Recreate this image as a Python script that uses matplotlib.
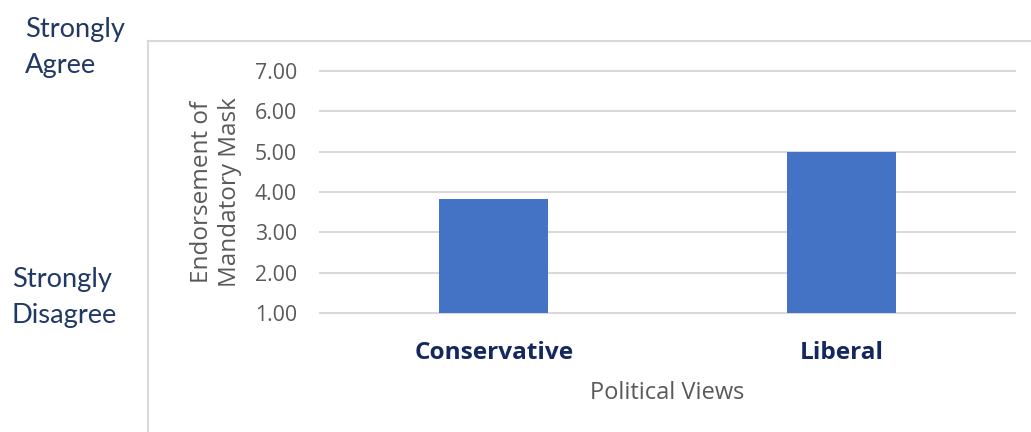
import matplotlib
matplotlib.use("Agg")
import matplotlib.pyplot as plt
from matplotlib.lines import Line2D

# chart data
categories = ["Conservative", "Liberal"]
endorsement = [3.82, 5.00]
y_ticks = [1, 2, 3, 4, 5, 6, 7]

W, H = 1031, 432
BAR_COLOR = "#4472C4"
GRID_COLOR = "#D9D9D9"
GRAY_TEXT = "#595959"
NAVY = "#1F3864"
NAVY_DARK = "#14285F"

plt.rcParams["font.family"] = ["Open Sans", "DejaVu Sans"]

fig = plt.figure(figsize=(W / 100, H / 100), dpi=100)

# frame around the chart area (open on the right and bottom)
fig.add_artist(Line2D([148 / W, 148 / W], [0, 1 - 41 / H], transform=fig.transFigure,
                      color=GRID_COLOR, lw=1.5))
fig.add_artist(Line2D([148 / W, 1], [1 - 41 / H, 1 - 41 / H], transform=fig.transFigure,
                      color=GRID_COLOR, lw=1.5))

ax = fig.add_axes([320 / W, (H - 313) / H, (1015 - 320) / W, (313 - 71) / H])
x = list(range(len(categories)))
ax.bar(x, endorsement, width=0.314, color=BAR_COLOR, zorder=2)

ax.set_xlim(-0.5, 1.5)
ax.set_ylim(1, 7)
ax.set_yticks(y_ticks)
ax.set_yticklabels([f"{v:.2f}" for v in y_ticks])
ax.set_xticks(x)
ax.set_xticklabels(categories)

ax.yaxis.grid(True, color=GRID_COLOR, lw=1.5, zorder=0)
for gl in ax.get_ygridlines():
    gl.set_clip_on(False)
ax.set_axisbelow(True)
for s in ax.spines.values():
    s.set_visible(False)

ax.tick_params(axis="y", length=0, pad=16.5, labelsize=15.3, labelcolor=GRAY_TEXT)
ax.tick_params(axis="x", length=0, pad=20.5, labelsize=17.6, labelcolor=NAVY_DARK)
for lbl in ax.get_xticklabels():
    lbl.set_fontweight("bold")

fig.text(667.5 / W, 1 - 393 / H, "Political Views", ha="center", va="center",
         fontsize=17, color=GRAY_TEXT)
fig.text(216 / W, 1 - 192 / H, "Endorsement of\nMandatory Mask", rotation=90,
         ha="center", va="center", multialignment="center",
         fontsize=17.5, color=GRAY_TEXT, linespacing=1.25)

# scale anchors on the left
anchor_font = ["Lato", "DejaVu Sans"]
fig.text(25 / W, 1 - 37 / H, "Strongly", ha="left", va="baseline",
         fontsize=19.6, color=NAVY, family=anchor_font)
fig.text(25 / W, 1 - 73 / H, "Agree", ha="left", va="baseline",
         fontsize=19.6, color=NAVY, family=anchor_font)
fig.text(12 / W, 1 - 287 / H, "Strongly", ha="left", va="baseline",
         fontsize=19.6, color=NAVY, family=anchor_font)
fig.text(12 / W, 1 - 323 / H, "Disagree", ha="left", va="baseline",
         fontsize=19.6, color=NAVY, family=anchor_font)

fig.savefig("out.png", dpi=100)
